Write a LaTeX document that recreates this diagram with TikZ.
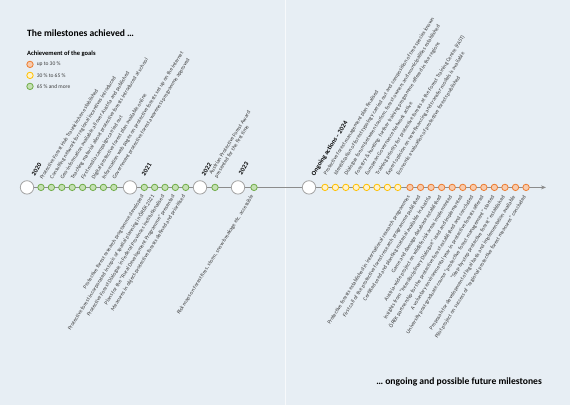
\documentclass[tikz,border=0pt]{standalone}
\usepackage{fontspec}
\setmainfont{Carlito}
\usetikzlibrary{arrows.meta,positioning}
\definecolor{paper}{RGB}{231,238,244}
\definecolor{lineg}{RGB}{140,140,140}
\definecolor{greenline}{RGB}{112,173,71}
\definecolor{greenfill}{RGB}{197,224,180}
\definecolor{yellowline}{RGB}{255,192,0}
\definecolor{yellowfill}{RGB}{255,242,204}
\definecolor{orangeline}{RGB}{237,125,49}
\definecolor{orangefill}{RGB}{248,203,173}
\definecolor{labeltext}{RGB}{60,60,60}
\tikzset{
  bigdot/.style={circle,draw=lineg!80,fill=white,line width=.8pt,minimum size=13.4pt,inner sep=0pt},
  smalldot/.style={circle,line width=.8pt,minimum size=6.4pt,inner sep=0pt},
  goalhigh/.style={smalldot,draw=greenline,fill=greenfill},
  goalmid/.style={smalldot,draw=yellowline,fill=yellowfill},
  goallow/.style={smalldot,draw=orangeline,fill=orangefill},
  uplabel/.style={rotate=58,anchor=west,inner sep=0pt,text=labeltext,font=\fontsize{5.5}{6.3}\selectfont},
  downlabel/.style={uplabel,anchor=east},
  yearlabel/.style={rotate=58,anchor=west,inner sep=0pt,font=\fontsize{6.5}{7}\selectfont\bfseries},
  legtext/.style={inner sep=0pt,text=labeltext,font=\fontsize{5.5}{6}\selectfont},
  headline/.style={inner sep=0pt,font=\fontsize{9.6}{11}\selectfont\bfseries}
}
\begin{document}
\begin{tikzpicture}[x=1pt,y=-1pt]
    \fill[paper] (0,0) rectangle (570,405);
    \draw[white,opacity=.7,line width=.8pt] (285,0) -- (285,405);

    \node[headline,anchor=west] (title) at (27,33) {The milestones achieved …};
    \node[headline,anchor=east] (future) at (542,382) {… ongoing and possible future milestones};

    \node[anchor=west,inner sep=0pt,font=\fontsize{6.5}{7}\selectfont\bfseries] (legend) at (27,53) {Achievement of the goals};
    \node[goallow] (l1) at (30,64) {};
    \node[goalmid] (l2) at (30,75) {};
    \node[goalhigh] (l3) at (30,86) {};
    \node[legtext,right=3pt of l1] {up to 30 \%};
    \node[legtext,right=3pt of l2] {30 \% to 65 \%};
    \node[legtext,right=3pt of l3] {65 \% and more};

    \coordinate (tstart) at (27,187);
    \coordinate (tend) at (546,187);
    \draw[lineg,line width=1.4pt,-{Stealth[length=5pt,width=4pt]}] (tstart) -- (tend);

    \node[bigdot] (y2020) at (27,187) {};
    \node[bigdot] (y2021) at (130,187) {};
    \node[bigdot] (y2022) at (200,187) {};
    \node[bigdot] (y2023) at (238,187) {};
    \node[bigdot] (y2024) at (309,187) {};

    \node[yearlabel] at (33,175) {2020};
    \node[yearlabel] at (143,175) {2021};
    \node[yearlabel] at (203,175) {2022};
    \node[yearlabel] at (240,174) {2023};
    \node[yearlabel] at (313,175) {Ongoing actions – 2024};

    \foreach \t [count=\i] in {
        Protective Forest Hub Traunkirchen established,
        Consulting network for regional incentives introduced,
        Geo-information available all over Austria and published,
        Teaching material about protective forests introduced at school,
        First media campaign carried out,
        Digital protective forest plan available online,
        Information web pages on protective forests set up on the internet,
        Government protective forest awareness programme approved}{
      \node[goalhigh] (a\i) at ({30.6+\i*10.4},187) {};
      \node[uplabel] (ta\i) at ([yshift=5pt]a\i.north) {\t};
    }

    \foreach \t [count=\i] in {
        Protective forest research programme developed,
        Protective forest incorporated in topic of spatial planning in ÖREK 2021,
        Protective Forest Dialogue in Federal Provinces institutionalised,
        Plans for the “Rural Development Programme” presented,
        Measures in object-protective forests defined and prioritised}{
      \node[goalhigh] (b\i) at ({133.95+\i*10.35},187) {};
      \node[downlabel] (tb\i) at ([xshift=-1.5pt,yshift=-4.5pt]b\i.south) {\t};
    }

    \node[goalhigh] (c1) at (215,187) {};
    \node[uplabel,anchor=south west,align=left] (tc1) at ([xshift=3pt,yshift=5pt]c1.north) {Austrian Protective Forest Award\\presented for the first time};

    \node[goalhigh] (d1) at (254,187) {};
    \node[downlabel] (td1) at ([xshift=-1.5pt,yshift=-4.5pt]d1.south) {Risk maps on forest fires, storm, snow breakage etc. accessible};

    \foreach \t [count=\i] in {
        Protective forest management plan finalised,
        Identification of forest typology carried out and composition of tree species known,
        {Dialogue forum between tourism, forest owners and municipalities established},
        Forestry \& hunting: further training programme offered in the regions,
        European Governance Network active,
        Training priority for protective forests at the Forest Training Centre (FAST),
        Expert opinion on new financing and transfer models is available,
        Economic evaluation of protective forests published}{
      \node[goalmid] (e\i) at ({314.6+\i*10.4},187) {};
      \node[uplabel] (te\i) at ([yshift=9pt]e\i.north) {\t};
    }

    \foreach \t [count=\i] in {
        Protective forests established in international research programmes,
        First call of the protective forest research programme published,
        Certified seed and planting material available in Austria,
        Game and damage database established,
        Austria-wide project on wildlife risk areas implemented,
        Insights from “Interdisciplinary Dialogue” used and implemented,
        ÖREK partnership for the protective forest established and concluded,
        A voluntary environmental year in protective forests offered,
        University post-graduate course “protective forest management” started,
        “Step-by-step protective forest” established,
        Proposals for development of legal basis and implementation available,
        Pilot project on success of “regional protective forest measures” concluded}{
      \node[goallow] (f\i) at ({399.45+\i*10.55},187) {};
      \node[downlabel] (tf\i) at ([xshift=-1pt,yshift=-5pt]f\i.south) {\t};
    }
\end{tikzpicture}
\end{document}
